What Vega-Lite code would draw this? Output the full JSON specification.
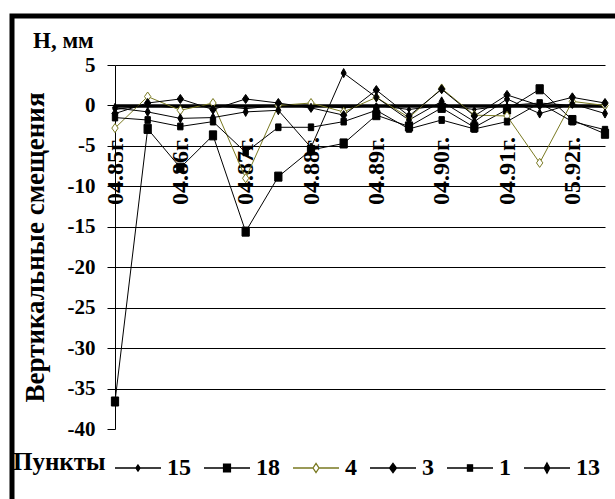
{
  "$schema": "https://vega.github.io/schema/vega-lite/v6.json",
  "width": 609,
  "height": 489,
  "autosize": {"type": "none"},
  "padding": {"left": 12, "top": 16, "right": -6, "bottom": -6},
  "background": "white",
  "title": {
    "text": "H, мм",
    "anchor": "start",
    "frame": "group",
    "dx": 21,
    "dy": 37,
    "offset": 0,
    "font": "Liberation Serif",
    "fontSize": 23,
    "fontWeight": "bold",
    "color": "black"
  },
  "data": {
    "values": [
      {"d": "04.85г.", "s": "15", "v": -0.5}, {"d": "10.85г.", "s": "15", "v": 0.0}, {"d": "04.86г.", "s": "15", "v": -0.3}, {"d": "10.86г.", "s": "15", "v": 0.0},
      {"d": "04.87г.", "s": "15", "v": -0.4}, {"d": "10.87г.", "s": "15", "v": 0.0}, {"d": "04.88г.", "s": "15", "v": 0.0}, {"d": "10.88г.", "s": "15", "v": -0.3},
      {"d": "04.89г.", "s": "15", "v": 0.0}, {"d": "10.89г.", "s": "15", "v": -0.5}, {"d": "04.90г.", "s": "15", "v": 0.0}, {"d": "10.90г.", "s": "15", "v": -0.5},
      {"d": "04.91г.", "s": "15", "v": 0.0}, {"d": "10.91г.", "s": "15", "v": 0.3}, {"d": "05.92г.", "s": "15", "v": 0.0}, {"d": "10.92г.", "s": "15", "v": -0.2},

      {"d": "04.85г.", "s": "18", "v": -36.6}, {"d": "10.85г.", "s": "18", "v": -2.9}, {"d": "04.86г.", "s": "18", "v": -7.7}, {"d": "10.86г.", "s": "18", "v": -3.7},
      {"d": "04.87г.", "s": "18", "v": -15.6}, {"d": "10.87г.", "s": "18", "v": -8.8}, {"d": "04.88г.", "s": "18", "v": -5.5}, {"d": "10.88г.", "s": "18", "v": -4.7},
      {"d": "04.89г.", "s": "18", "v": -1.2}, {"d": "10.89г.", "s": "18", "v": -2.6}, {"d": "04.90г.", "s": "18", "v": -0.3}, {"d": "10.90г.", "s": "18", "v": -2.7},
      {"d": "04.91г.", "s": "18", "v": -0.5}, {"d": "10.91г.", "s": "18", "v": 2.0}, {"d": "05.92г.", "s": "18", "v": -1.8}, {"d": "10.92г.", "s": "18", "v": -3.5},

      {"d": "04.85г.", "s": "4", "v": -2.8}, {"d": "10.85г.", "s": "4", "v": 1.1}, {"d": "04.86г.", "s": "4", "v": -0.6}, {"d": "10.86г.", "s": "4", "v": 0.3},
      {"d": "04.87г.", "s": "4", "v": -9.0}, {"d": "10.87г.", "s": "4", "v": 0.0}, {"d": "04.88г.", "s": "4", "v": 0.3}, {"d": "10.88г.", "s": "4", "v": -0.8},
      {"d": "04.89г.", "s": "4", "v": 1.0}, {"d": "10.89г.", "s": "4", "v": -1.5}, {"d": "04.90г.", "s": "4", "v": 2.1}, {"d": "10.90г.", "s": "4", "v": -1.2},
      {"d": "04.91г.", "s": "4", "v": -1.3}, {"d": "10.91г.", "s": "4", "v": -7.1}, {"d": "05.92г.", "s": "4", "v": 0.5}, {"d": "10.92г.", "s": "4", "v": 0.0},

      {"d": "04.85г.", "s": "3", "v": -1.0}, {"d": "10.85г.", "s": "3", "v": 0.3}, {"d": "04.86г.", "s": "3", "v": 0.8}, {"d": "10.86г.", "s": "3", "v": -0.5},
      {"d": "04.87г.", "s": "3", "v": 0.8}, {"d": "10.87г.", "s": "3", "v": 0.3}, {"d": "04.88г.", "s": "3", "v": -0.3}, {"d": "10.88г.", "s": "3", "v": -1.2},
      {"d": "04.89г.", "s": "3", "v": 1.9}, {"d": "10.89г.", "s": "3", "v": -1.3}, {"d": "04.90г.", "s": "3", "v": 2.0}, {"d": "10.90г.", "s": "3", "v": -1.3},
      {"d": "04.91г.", "s": "3", "v": 1.3}, {"d": "10.91г.", "s": "3", "v": 0.0}, {"d": "05.92г.", "s": "3", "v": 1.0}, {"d": "10.92г.", "s": "3", "v": 0.3},

      {"d": "04.85г.", "s": "1", "v": -1.5}, {"d": "10.85г.", "s": "1", "v": -1.8}, {"d": "04.86г.", "s": "1", "v": -2.6}, {"d": "10.86г.", "s": "1", "v": -2.0},
      {"d": "04.87г.", "s": "1", "v": -5.8}, {"d": "10.87г.", "s": "1", "v": -2.7}, {"d": "04.88г.", "s": "1", "v": -2.7}, {"d": "10.88г.", "s": "1", "v": -2.0},
      {"d": "04.89г.", "s": "1", "v": -0.6}, {"d": "10.89г.", "s": "1", "v": -2.9}, {"d": "04.90г.", "s": "1", "v": -1.8}, {"d": "10.90г.", "s": "1", "v": -2.9},
      {"d": "04.91г.", "s": "1", "v": -2.0}, {"d": "10.91г.", "s": "1", "v": 0.3}, {"d": "05.92г.", "s": "1", "v": -2.0}, {"d": "10.92г.", "s": "1", "v": -3.0},

      {"d": "04.85г.", "s": "13", "v": -0.3}, {"d": "10.85г.", "s": "13", "v": -0.8}, {"d": "04.86г.", "s": "13", "v": -1.6}, {"d": "10.86г.", "s": "13", "v": -1.5},
      {"d": "04.87г.", "s": "13", "v": -0.8}, {"d": "10.87г.", "s": "13", "v": -0.6}, {"d": "04.88г.", "s": "13", "v": -5.2}, {"d": "10.88г.", "s": "13", "v": 4.0},
      {"d": "04.89г.", "s": "13", "v": 1.0}, {"d": "10.89г.", "s": "13", "v": -1.8}, {"d": "04.90г.", "s": "13", "v": 0.5}, {"d": "10.90г.", "s": "13", "v": -2.0},
      {"d": "04.91г.", "s": "13", "v": 0.8}, {"d": "10.91г.", "s": "13", "v": -1.0}, {"d": "05.92г.", "s": "13", "v": 0.2}, {"d": "10.92г.", "s": "13", "v": -1.0}
    ]
  },
  "encoding": {
    "x": {
      "field": "d",
      "type": "ordinal",
      "scale": {
        "type": "point",
        "domain": ["04.85г.", "10.85г.", "04.86г.", "10.86г.", "04.87г.", "10.87г.", "04.88г.", "10.88г.", "04.89г.", "10.89г.", "04.90г.", "10.90г.", "04.91г.", "10.91г.", "05.92г.", "10.92г."],
        "range": [103, 593],
        "padding": 0
      },
      "axis": {
        "orient": "bottom",
        "offset": -399.6,
        "title": null,
        "values": ["04.85г.", "04.86г.", "04.87г.", "04.88г.", "04.89г.", "04.90г.", "04.91г.", "05.92г."],
        "labelAngle": -90,
        "labelFont": "Liberation Serif",
        "labelFontSize": 24,
        "labelFontWeight": "bold",
        "labelColor": "black",
        "labelPadding": 31,
        "labelOverlap": false,
        "labelBound": false,
        "ticks": false,
        "tickSize": 0,
        "domainColor": "black",
        "domainWidth": 3.5,
        "grid": false
      }
    },
    "y": {
      "field": "v",
      "type": "quantitative",
      "scale": {"domain": [-40, 5], "range": [413, 49], "nice": false, "zero": false},
      "axis": {
        "orient": "left",
        "offset": -103,
        "title": "Вертикальные смещения",
        "titleFont": "Liberation Serif",
        "titleFontSize": 27,
        "titleFontWeight": "bold",
        "titleColor": "black",
        "titlePadding": 18,
        "values": [5, 0, -5, -10, -15, -20, -25, -30, -35, -40],
        "labelExpr": "'' + datum.value",
        "labelFont": "Liberation Serif",
        "labelFontSize": 21,
        "labelFontWeight": "bold",
        "labelColor": "black",
        "labelPadding": 12,
        "labelBound": false,
        "tickSize": 8,
        "tickColor": "black",
        "domainColor": "black",
        "grid": true,
        "gridColor": "black",
        "gridWidth": 1,
        "gridOpacity": {"condition": {"test": "datum.value === -40", "value": 0}, "value": 1}
      }
    }
  },
  "layer": [
    {
      "mark": {"type": "line", "strokeWidth": 1},
      "encoding": {
        "order": {"value": null},
        "detail": {"field": "s", "type": "nominal"},
        "stroke": {"condition": {"test": "datum.s === '4'", "value": "#7a7a22"}, "value": "#000"}
      }
    },
    {
      "mark": {"type": "point", "filled": true, "opacity": 1, "strokeWidth": 1},
      "encoding": {
        "stroke": {"condition": {"test": "datum.s === '4'", "value": "#7a7a22"}, "value": "#000"},
        "fill": {"condition": {"test": "datum.s === '4'", "value": "#fff"}, "value": "#000"},
        "size": {"condition": [{"test": "datum.s === '15'", "value": 30}, {"test": "datum.s === '1'", "value": 45}], "value": 82},
        "shape": {
          "condition": [
            {"test": "datum.s === '18' || datum.s === '1'", "value": "M-0.8,-1H0.8V1H-0.8Z"},
            {"test": "datum.s === '13'", "value": "M0,-1L0.55,0L0,1L-0.55,0Z"}
          ],
          "value": "M0,-1L0.7,0L0,1L-0.7,0Z"
        }
      }
    },
    {
      "mark": {"type": "point", "filled": true, "opacity": 0, "strokeWidth": 1.3},
      "encoding": {
        "stroke": {
          "field": "s",
          "type": "nominal",
          "scale": {"domain": ["15", "18", "4", "3", "1", "13"], "range": ["#000", "#000", "#7a7a22", "#000", "#000", "#000"]}
        },
        "fill": {
          "field": "s",
          "type": "nominal",
          "scale": {"domain": ["15", "18", "4", "3", "1", "13"], "range": ["#000", "#000", "#fff", "#000", "#000", "#000"]}
        },
        "shape": {
          "field": "s",
          "type": "nominal",
          "scale": {
            "domain": ["15", "18", "4", "3", "1", "13"],
            "range": [
              "M-1,0H1M0,-0.13L0.09,0L0,0.13L-0.09,0Z",
              "M-1,0H1M-0.15,-0.17H0.15V0.17H-0.15Z",
              "M-1,0H-0.13M0.13,0H1M0,-0.2L0.13,0L0,0.2L-0.13,0Z",
              "M-1,0H1M0,-0.2L0.15,0L0,0.2L-0.15,0Z",
              "M-1,0H1M-0.11,-0.14H0.11V0.14H-0.11Z",
              "M-1,0H1M0,-0.22L0.12,0L0,0.22L-0.12,0Z"
            ]
          },
          "legend": {
            "orient": "none",
            "legendX": 1,
            "legendY": 428,
            "direction": "horizontal",
            "title": "Пункты",
            "titleOrient": "left",
            "titleAnchor": "middle",
            "titleBaseline": "middle",
            "titleFont": "Liberation Serif",
            "titleFontSize": 25,
            "titleFontWeight": "bold",
            "titleColor": "black",
            "titlePadding": 8,
            "labelFont": "Liberation Serif",
            "labelFontSize": 24,
            "labelFontWeight": "bold",
            "labelColor": "black",
            "labelOffset": 5,
            "columnPadding": 10,
            "symbolSize": 2116,
            "symbolStrokeWidth": 1.3,
            "symbolOpacity": 1,
            "padding": 0
          }
        }
      }
    }
  ],
  "config": {
    "view": {"stroke": "black", "strokeWidth": 5},
    "font": "Liberation Serif"
  }
}
